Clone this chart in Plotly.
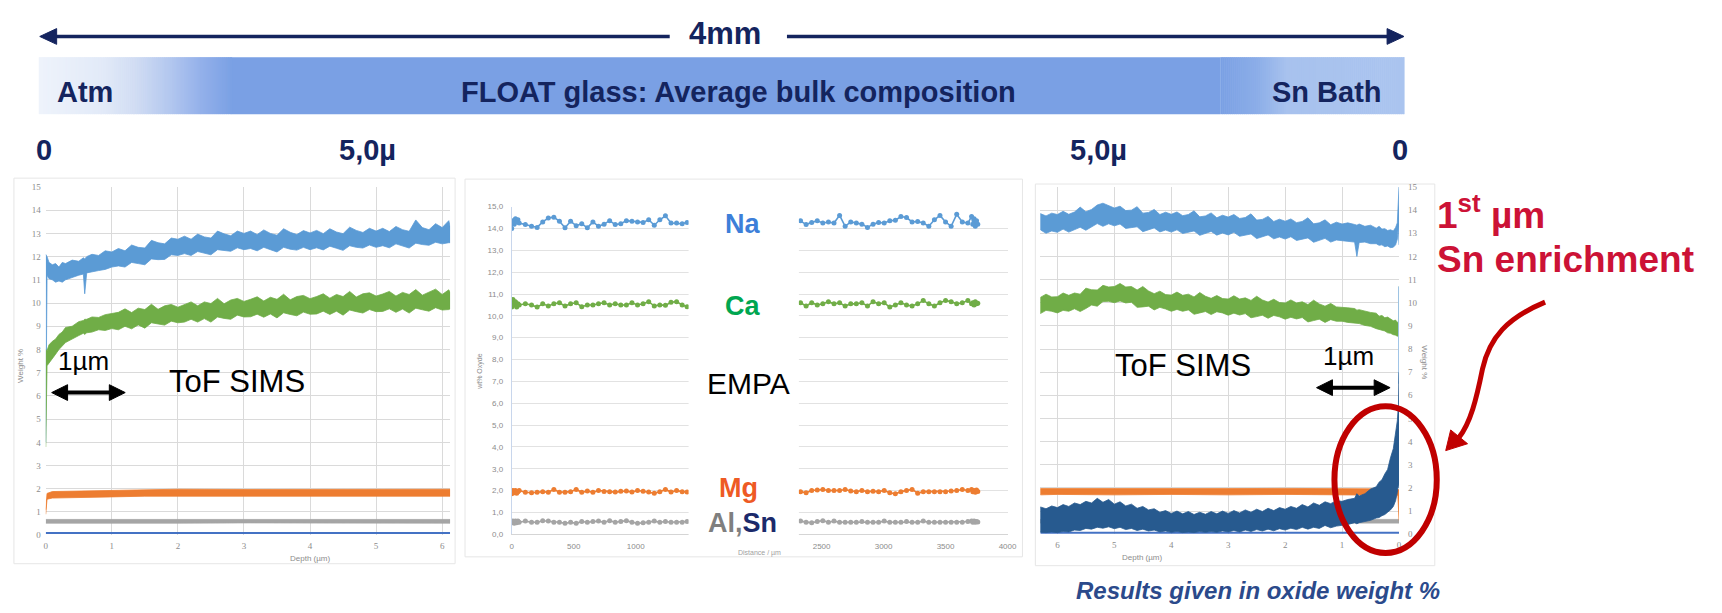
import plotly.graph_objects as go

W, H = 1722, 613

# ---------------- ToF-SIMS profile, atmosphere face (depth in µm, oxide wt %) ----------------
# each species is drawn as its noise envelope (low / high edge)
ATM_DEPTH = [0.0, 0.02, 0.05, 0.1, 0.15, 0.2, 0.25, 0.3, 0.4, 0.5, 0.57, 0.59, 0.62, 0.7, 0.8, 0.9, 1.0,
             1.1, 1.2, 1.3, 1.4, 1.5, 1.6, 1.7, 1.8, 1.9, 2.0,
             2.1, 2.2, 2.3, 2.4, 2.5, 2.6, 2.7, 2.8, 2.9, 3.0,
             3.1, 3.2, 3.3, 3.4, 3.5, 3.6, 3.7, 3.8, 3.9, 4.0,
             4.1, 4.2, 4.3, 4.4, 4.5, 4.6, 4.7, 4.8, 4.9, 5.0,
             5.1, 5.2, 5.3, 5.4, 5.5, 5.6, 5.7, 5.8, 5.9, 6.0,
             6.1, 6.12]
ATM_NA_HI = [12.1, 12.0, 11.75, 11.65, 11.7, 11.55, 11.75, 11.7, 11.85, 11.8, 11.95, 11.9, 12.0, 12.1, 12.05, 12.25, 12.2,
             12.35, 12.25, 12.5, 12.4, 12.37, 12.7, 12.6, 12.55, 12.8, 12.75,
             12.88, 12.75, 12.97, 12.85, 12.8, 13.1, 12.98, 12.9, 13.1, 13.0,
             13.1, 12.95, 13.15, 13.0, 12.92, 13.2, 13.05, 12.95, 13.12, 13.02,
             13.13, 12.99, 13.2, 13.06, 12.99, 13.27, 13.13, 13.04, 13.22, 13.1,
             13.22, 13.08, 13.3, 13.16, 13.09, 13.58, 13.25, 13.16, 13.42, 13.25,
             13.55, 13.3]
ATM_NA_LO = [4.0, 11.2, 11.05, 11.0, 10.9, 10.95, 10.9, 11.0, 11.1, 11.2, 11.25, 10.4, 11.3, 11.35, 11.4, 11.45, 11.55,
             11.6, 11.55, 11.75, 11.7, 11.65, 11.9, 11.87, 11.88, 12.08, 12.05,
             12.13, 12.05, 12.22, 12.15, 12.08, 12.3, 12.25, 12.23, 12.38, 12.3,
             12.35, 12.25, 12.4, 12.3, 12.2, 12.4, 12.32, 12.28, 12.4, 12.3,
             12.38, 12.29, 12.45, 12.36, 12.27, 12.47, 12.4, 12.37, 12.5, 12.4,
             12.47, 12.38, 12.55, 12.46, 12.37, 12.58, 12.52, 12.49, 12.62, 12.55,
             12.6, 12.6]
ATM_CA_HI = [8.0, 7.95, 8.2, 8.35, 8.45, 8.65, 8.75, 8.95, 9.0, 9.2, 9.25, 9.3, 9.3, 9.4, 9.38, 9.5, 9.55,
             9.6, 9.75, 9.59, 9.78, 9.72, 9.95, 9.73, 9.88, 9.94, 9.82,
             9.93, 10.05, 9.88, 10.05, 9.98, 10.2, 9.97, 10.13, 10.2, 10.07,
             10.16, 10.27, 10.09, 10.25, 10.16, 10.38, 10.14, 10.28, 10.33, 10.19,
             10.28, 10.4, 10.21, 10.37, 10.28, 10.5, 10.26, 10.4, 10.44, 10.3,
             10.39, 10.5, 10.3, 10.46, 10.37, 10.58, 10.34, 10.48, 10.6, 10.37,
             10.57, 10.45]
ATM_CA_LO = [3.8, 7.3, 7.45, 7.6, 7.8, 8.0, 8.15, 8.3, 8.45, 8.6, 8.7, 8.65, 8.72, 8.75, 8.85, 8.82, 8.9,
             8.85, 9.0, 8.89, 9.06, 8.92, 9.15, 9.1, 9.05, 9.22, 9.15,
             9.18, 9.3, 9.18, 9.33, 9.18, 9.4, 9.34, 9.3, 9.48, 9.4,
             9.41, 9.52, 9.39, 9.53, 9.36, 9.58, 9.51, 9.45, 9.61, 9.52,
             9.53, 9.65, 9.51, 9.65, 9.48, 9.7, 9.63, 9.57, 9.72, 9.63,
             9.64, 9.75, 9.6, 9.74, 9.57, 9.78, 9.71, 9.65, 9.8, 9.7,
             9.72, 9.75]
ATM_MG_DEPTH = [0.0, 0.02, 0.1, 0.5, 1.0, 1.5, 2.0, 3.0, 4.0, 5.0, 6.12]
ATM_MG_LO = [0.9, 1.55, 1.6, 1.62, 1.65, 1.68, 1.68, 1.68, 1.69, 1.68, 1.68]
ATM_MG_HI = [1.1, 1.8, 1.88, 1.9, 1.93, 1.97, 1.98, 1.97, 1.98, 1.97, 1.98]
ATM_AL_DEPTH = [0.0, 1.0, 2.0, 3.0, 4.0, 5.0, 6.12]
ATM_AL_LO = [0.52, 0.53, 0.52, 0.53, 0.52, 0.53, 0.52]
ATM_AL_HI = [0.68, 0.68, 0.69, 0.68, 0.68, 0.69, 0.68]
ATM_SN_DEPTH = [0.0, 6.12]
ATM_SN = [0.1, 0.1]

# ---------------- EMPA line scan across the 4 mm section (distance in µm) ----------------
EMPA_X_L = [0, 10, 20, 30, 40, 50, 60, 110, 160, 205, 250, 295, 340, 385, 430, 475, 520, 565,
            610, 655, 700, 745, 790, 835, 880, 925, 970, 1015, 1060, 1105, 1150, 1195, 1240,
            1285, 1330, 1375, 1415]
EMPA_NA_L = [14.0, 14.35, 14.2, 14.45, 14.3, 14.4, 14.25,
             14.18, 14.1, 14.05, 14.3, 14.48, 14.52, 14.33, 14.03, 14.33, 14.13, 14.22, 14.03, 14.3,
             14.1, 14.2, 14.36, 14.18, 14.22, 14.36, 14.33, 14.3, 14.28, 14.4, 14.15, 14.4, 14.58,
             14.25, 14.25, 14.22, 14.28]
EMPA_CA_L = [10.4, 10.75, 10.5, 10.65, 10.4, 10.55, 10.5,
             10.55, 10.5, 10.4, 10.55, 10.45, 10.55, 10.6, 10.45, 10.55, 10.6, 10.42, 10.5, 10.5,
             10.55, 10.6, 10.5, 10.55, 10.5, 10.5, 10.6, 10.5, 10.55, 10.65, 10.45, 10.5, 10.48,
             10.62, 10.65, 10.5, 10.42]
EMPA_MG_L = [1.85, 2.0, 1.9, 2.0, 1.88, 1.95, 2.0,
             1.92, 1.9, 1.92, 1.95, 1.92, 2.05, 1.92, 1.92, 1.95, 2.05, 1.92, 1.98, 1.92,
             2.0, 1.96, 1.95, 1.93, 1.97, 1.98, 1.93, 2.0, 1.97, 1.93, 1.88, 1.95, 2.05,
             1.93, 2.0, 1.95, 1.93]
EMPA_AL_L = [0.55, 0.6, 0.5, 0.6, 0.52, 0.6, 0.55,
             0.6, 0.55, 0.55, 0.62, 0.6, 0.55, 0.55, 0.5, 0.55, 0.5, 0.58, 0.55, 0.58,
             0.6, 0.55, 0.62, 0.55, 0.58, 0.62, 0.55, 0.5, 0.52, 0.55, 0.6, 0.55, 0.58,
             0.55, 0.55, 0.55, 0.58]
EMPA_X_R = [2330, 2375, 2420, 2465, 2510, 2555, 2600, 2645, 2690, 2735, 2780, 2825, 2870,
            2915, 2960, 3005, 3050, 3095, 3140, 3185, 3230, 3275, 3320, 3365, 3410, 3455,
            3500, 3545, 3590, 3635, 3680, 3710, 3720, 3730, 3740, 3750, 3760]
EMPA_NA_R = [14.35, 14.18, 14.28, 14.35, 14.25, 14.3, 14.25, 14.6, 14.1, 14.3, 14.25, 14.2,
             14.05, 14.2, 14.28, 14.25, 14.35, 14.38, 14.55, 14.5, 14.3, 14.32, 14.25, 14.1,
             14.4, 14.6, 14.3, 14.1, 14.65, 14.3, 14.25, 14.55, 14.2, 14.45, 14.1, 14.35, 14.2]
EMPA_CA_R = [10.6, 10.45, 10.6, 10.5, 10.55, 10.65, 10.55, 10.6, 10.45, 10.55, 10.55, 10.6,
             10.45, 10.65, 10.55, 10.6, 10.4, 10.5, 10.6, 10.5, 10.45, 10.55, 10.7, 10.55,
             10.45, 10.6, 10.7, 10.65, 10.55, 10.6, 10.7, 10.55, 10.6, 10.5, 10.65, 10.55, 10.58]
EMPA_MG_R = [1.95, 1.9, 2.0, 2.02, 2.05, 2.0, 2.0, 2.0, 2.05, 1.98, 1.95, 2.0,
             1.95, 1.97, 1.95, 2.0, 1.9, 1.85, 1.95, 2.0, 2.05, 1.88, 1.95, 1.95,
             1.95, 1.95, 1.95, 1.98, 2.0, 2.05, 2.0, 2.05, 1.95, 2.0, 1.92, 2.02, 1.96]
EMPA_AL_R = [0.6, 0.55, 0.52, 0.58, 0.62, 0.55, 0.6, 0.55, 0.55, 0.55, 0.55, 0.58,
             0.55, 0.55, 0.55, 0.6, 0.55, 0.55, 0.55, 0.58, 0.55, 0.55, 0.6, 0.55,
             0.55, 0.55, 0.55, 0.55, 0.55, 0.55, 0.58, 0.6, 0.55, 0.6, 0.55, 0.58, 0.56]

# ---------------- ToF-SIMS profile, tin-bath face ----------------
SNB_DEPTH = [0.0, 0.01, 0.03, 0.06, 0.1, 0.15, 0.2, 0.25, 0.3, 0.35, 0.4, 0.5, 0.6, 0.7, 0.74, 0.78, 0.9, 1.0,
             1.1, 1.2, 1.3, 1.4, 1.5, 1.6, 1.7, 1.8, 1.9, 2.0,
             2.1, 2.2, 2.3, 2.4, 2.5, 2.6, 2.7, 2.8, 2.9, 3.0,
             3.1, 3.2, 3.3, 3.4, 3.5, 3.6, 3.7, 3.8, 3.9, 4.0,
             4.1, 4.2, 4.3, 4.4, 4.5, 4.6, 4.7, 4.8, 4.9, 5.0,
             5.1, 5.2, 5.3, 5.4, 5.5, 5.6, 5.7, 5.8, 5.9, 6.0,
             6.1, 6.2, 6.3]
SNB_NA_HI = [15.0, 14.4, 13.45, 13.25, 13.1, 13.15, 13.12, 13.2, 13.18, 13.3, 13.22, 13.35, 13.3, 13.4, 13.35, 13.38, 13.45, 13.4,
             13.48, 13.37, 13.58, 13.45, 13.41, 13.67, 13.51, 13.46, 13.62, 13.52,
             13.61, 13.51, 13.73, 13.6, 13.57, 13.84, 13.68, 13.64, 13.81, 13.7,
             13.78, 13.67, 13.88, 13.75, 13.71, 13.97, 13.81, 13.76, 13.92, 13.82,
             13.91, 13.81, 14.03, 13.9, 13.87, 14.15, 14.0, 13.98, 14.17, 14.09,
             14.18, 14.3, 14.22, 14.03, 13.93, 14.13, 13.92, 13.82, 13.95, 13.81,
             13.87, 13.75, 13.85]
SNB_NA_LO = [12.5, 13.4, 12.75, 12.5, 12.4, 12.38, 12.45, 12.42, 12.5, 12.48, 12.55, 12.55, 12.62, 12.6, 12.0, 12.62, 12.65, 12.68,
             12.71, 12.62, 12.78, 12.7, 12.61, 12.8, 12.75, 12.69, 12.85, 12.75,
             12.84, 12.76, 12.93, 12.85, 12.77, 12.97, 12.92, 12.87, 13.04, 12.93,
             13.01, 12.92, 13.08, 13.0, 12.91, 13.1, 13.05, 12.99, 13.15, 13.05,
             13.14, 13.06, 13.23, 13.15, 13.07, 13.28, 13.24, 13.21, 13.4, 13.32,
             13.41, 13.3, 13.42, 13.28, 13.13, 13.26, 13.16, 13.05, 13.18, 13.04,
             13.1, 13.0, 13.15]
SNB_CA_HI = [10.7, 9.2, 9.15, 9.25, 9.22, 9.3, 9.38, 9.35, 9.45, 9.42, 9.55, 9.58, 9.65, 9.7, 9.68, 9.75, 9.78, 9.8,
             9.82, 9.97, 9.85, 9.95, 10.11, 9.92, 10.04, 9.99, 10.12, 9.99,
             10.01, 10.15, 10.03, 10.12, 10.28, 10.1, 10.21, 10.16, 10.3, 10.16,
             10.18, 10.31, 10.19, 10.28, 10.44, 10.25, 10.37, 10.32, 10.46, 10.33,
             10.35, 10.5, 10.39, 10.51, 10.7, 10.55, 10.7, 10.68, 10.83, 10.7,
             10.68, 10.75, 10.55, 10.56, 10.63, 10.37, 10.42, 10.32, 10.42, 10.26,
             10.25, 10.37, 10.23]
SNB_CA_LO = [8.6, 8.6, 8.55, 8.6, 8.62, 8.68, 8.7, 8.78, 8.8, 8.85, 8.88, 8.98, 9.02, 9.1, 9.08, 9.12, 9.15, 9.2,
             9.2, 9.27, 9.15, 9.29, 9.23, 9.17, 9.36, 9.3, 9.37, 9.29,
             9.39, 9.45, 9.33, 9.46, 9.4, 9.35, 9.53, 9.47, 9.55, 9.46,
             9.56, 9.61, 9.49, 9.62, 9.56, 9.5, 9.69, 9.63, 9.71, 9.63,
             9.73, 9.8, 9.69, 9.85, 9.82, 9.8, 10.02, 9.99, 10.08, 10.0,
             10.06, 10.05, 9.85, 9.9, 9.75, 9.62, 9.74, 9.63, 9.67, 9.56,
             9.63, 9.67, 9.53]
SNB_SN_HI = [7.0, 5.6, 4.9, 4.4, 3.7, 3.3, 2.8, 2.6, 2.35, 2.25, 2.05, 1.95, 1.75, 1.65, 1.75, 1.55, 1.5, 1.42,
             1.45, 1.32, 1.4, 1.25, 1.35, 1.18, 1.28, 1.12, 1.2, 1.08,
             1.15, 1.02, 1.12, 0.98, 1.08, 0.95, 1.05, 0.92, 1.02, 0.9,
             1.0, 0.88, 0.98, 0.86, 0.95, 0.85, 0.98, 0.88, 1.0, 0.9,
             1.02, 0.95, 1.1, 1.05, 1.2, 1.12, 1.3, 1.22, 1.4, 1.3,
             1.5, 1.38, 1.55, 1.35, 1.42, 1.28, 1.35, 1.2, 1.28, 1.15,
             1.22, 1.1, 1.18]
SNB_SN_LO = [2.0, 2.2, 1.8, 1.45, 1.2, 1.05, 0.95, 0.85, 0.8, 0.72, 0.7, 0.6, 0.55, 0.5, 0.45, 0.5, 0.42, 0.38,
             0.35, 0.28, 0.38, 0.25, 0.3, 0.22, 0.3, 0.2, 0.26, 0.18,
             0.24, 0.15, 0.22, 0.14, 0.2, 0.12, 0.18, 0.1, 0.16, 0.1,
             0.14, 0.08, 0.12, 0.08, 0.12, 0.07, 0.1, 0.07, 0.12, 0.08,
             0.14, 0.1, 0.18, 0.14, 0.22, 0.16, 0.25, 0.2, 0.3, 0.24,
             0.32, 0.26, 0.3, 0.22, 0.25, 0.16, 0.18, 0.1, 0.12, 0.07,
             0.1, 0.07, 0.09]
SNB_EDGE_DEPTH = [0.004, 0.004]
SNB_EDGE = [6.5, 10.7]
SNB_MG_DEPTH = [0.0, 0.02, 0.5, 1.0, 2.0, 3.0, 4.0, 5.0, 6.0, 6.3]
SNB_MG_LO = [0.6, 1.68, 1.7, 1.7, 1.72, 1.7, 1.72, 1.7, 1.72, 1.7]
SNB_MG_HI = [1.9, 1.95, 1.96, 1.97, 1.98, 1.97, 1.98, 1.98, 1.97, 1.97]
SNB_AL_DEPTH = [0.0, 1.0, 2.0, 3.0, 4.0, 5.0, 6.3]
SNB_AL_LO = [0.48, 0.49, 0.48, 0.49, 0.48, 0.49, 0.48]
SNB_AL_HI = [0.64, 0.64, 0.65, 0.64, 0.64, 0.65, 0.64]
SNB_BASE_DEPTH = [0.0, 6.3]
SNB_BASE = [0.06, 0.06]

# ---------------- ticks ----------------
DEPTH_TICKS = [0, 1, 2, 3, 4, 5, 6]
WT_TICKS = [0, 1, 2, 3, 4, 5, 6, 7, 8, 9, 10, 11, 12, 13, 14, 15]
EMPA_Y_TEXT = ["0,0", "1,0", "2,0", "3,0", "4,0", "5,0", "6,0", "7,0", "8,0", "9,0",
               "10,0", "11,0", "12,0", "13,0", "14,0", "15,0"]
EMPA_X_TICKS = [0, 500, 1000, 2500, 3000, 3500, 4000]

# ---------------- styling ----------------
NAVY = "#14245E"
RED = "#C00000"
RED_TEXT = "#CC1236"
SANS = "Liberation Sans, Arial, sans-serif"
SERIF = "Liberation Serif, Times New Roman, serif"
C_NA, C_CA, C_MG, C_AL = "#5B9BD5", "#70AD47", "#ED7D31", "#A5A5A5"
C_SN, C_SN_DARK = "#4472C4", "#275A8F"
GRID = "#DADADA"


def px(x):
    return x / W


def py(y):
    return 1 - y / H


def band(depth, lo, hi, color, ax):
    xs = list(depth) + list(depth)[::-1]
    ys = list(hi) + list(lo)[::-1]
    return go.Scatter(x=xs, y=ys, mode="lines", fill="toself", fillcolor=color,
                      line=dict(color=color, width=0.8), xaxis="x" + ax, yaxis="y" + ax,
                      hoverinfo="skip", showlegend=False)


def line(xs, ys, color, ax, width=2):
    return go.Scatter(x=xs, y=ys, mode="lines", line=dict(color=color, width=width),
                      xaxis="x" + ax, yaxis="y" + ax, hoverinfo="skip", showlegend=False)


def scan(xs, ys, color):
    return go.Scatter(x=xs, y=ys, mode="lines+markers", line=dict(color=color, width=1.6),
                      marker=dict(size=5, color=color), xaxis="x2", yaxis="y2",
                      hoverinfo="skip", showlegend=False)


fig = go.Figure()

# atmosphere-side profile
fig.add_trace(band(ATM_DEPTH, ATM_NA_LO, ATM_NA_HI, C_NA, ""))
fig.add_trace(band(ATM_DEPTH, ATM_CA_LO, ATM_CA_HI, C_CA, ""))
fig.add_trace(band(ATM_AL_DEPTH, ATM_AL_LO, ATM_AL_HI, C_AL, ""))
fig.add_trace(band(ATM_MG_DEPTH, ATM_MG_LO, ATM_MG_HI, C_MG, ""))
fig.add_trace(line(ATM_SN_DEPTH, ATM_SN, C_SN, ""))

# EMPA bulk scan
for xs, series in ((EMPA_X_L, (EMPA_NA_L, EMPA_CA_L, EMPA_MG_L, EMPA_AL_L)),
                   (EMPA_X_R, (EMPA_NA_R, EMPA_CA_R, EMPA_MG_R, EMPA_AL_R))):
    for ys, col in zip(series, (C_NA, C_CA, C_MG, C_AL)):
        fig.add_trace(scan(xs, ys, col))

# tin-bath-side profile
fig.add_trace(band(SNB_DEPTH, SNB_NA_LO, SNB_NA_HI, C_NA, "3"))
fig.add_trace(band(SNB_DEPTH, SNB_CA_LO, SNB_CA_HI, C_CA, "3"))
fig.add_trace(band(SNB_AL_DEPTH, SNB_AL_LO, SNB_AL_HI, C_AL, "3"))
fig.add_trace(line(SNB_BASE_DEPTH, SNB_BASE, C_SN, "3"))
fig.add_trace(band(SNB_MG_DEPTH, SNB_MG_LO, SNB_MG_HI, C_MG, "3"))
fig.add_trace(line(SNB_EDGE_DEPTH, SNB_EDGE, "#9DC3E6", "3", width=1.5))
fig.add_trace(band(SNB_DEPTH, SNB_SN_LO, SNB_SN_HI, C_SN_DARK, "3"))

tick_serif = dict(family=SERIF, size=9, color="#8C8C8C")
tick_sans = dict(family=SANS, size=8, color="#8C8C8C")

layout_axes = dict(
    xaxis=dict(domain=[px(44), px(451)], range=[0, 6.12], tickvals=DEPTH_TICKS,
               showgrid=True, gridcolor=GRID, zeroline=False, showline=False, ticks="",
               tickfont=tick_serif, ticklabelstandoff=4, anchor="y", fixedrange=True),
    yaxis=dict(domain=[py(539), py(185)], range=[0, 15], tickvals=WT_TICKS,
               showgrid=True, gridcolor=GRID, zeroline=False, ticks="", tickfont=tick_serif,
               ticklabelstandoff=4, anchor="x", fixedrange=True),
    xaxis2=dict(domain=[px(513), px(1012)], range=[0, 4000], tickvals=EMPA_X_TICKS,
                showgrid=False, zeroline=False, showline=True, linecolor="#D5D5D5",
                ticks="", tickfont=tick_sans, ticklabelstandoff=4, anchor="y2", fixedrange=True),
    yaxis2=dict(domain=[py(538), py(205)], range=[0, 15], tickvals=WT_TICKS, ticktext=EMPA_Y_TEXT,
                showgrid=True, gridcolor="#E2E2E2", zeroline=False, showline=True,
                linecolor="#C8D6EC", ticks="", tickfont=tick_sans, ticklabelstandoff=6,
                anchor="x2", fixedrange=True),
    xaxis3=dict(domain=[px(1045), px(1406)], range=[6.3, 0], tickvals=DEPTH_TICKS,
                showgrid=True, gridcolor=GRID, zeroline=False, ticks="", tickfont=tick_serif,
                ticklabelstandoff=4, anchor="y3", fixedrange=True),
    yaxis3=dict(domain=[py(538), py(185)], range=[0, 15], tickvals=WT_TICKS, side="right",
                showgrid=True, gridcolor=GRID, zeroline=False, ticks="", tickfont=tick_serif,
                ticklabelstandoff=8, anchor="x3", fixedrange=True),
)

# ---------------- decorations ----------------
shapes = []


def rect(x0, y0, x1, y1, fill=None, edge=None, width=1, layer="below"):
    shapes.append(dict(type="rect", xref="paper", yref="paper",
                       x0=px(x0), x1=px(x1), y0=py(y1), y1=py(y0),
                       fillcolor=fill or "rgba(0,0,0,0)",
                       line=dict(color=edge or "rgba(0,0,0,0)", width=width if edge else 0),
                       layer=layer))


def poly(points, color, layer="above"):
    d = "M " + " L ".join(f"{px(x):.5f},{py(y):.5f}" for x, y in points) + " Z"
    shapes.append(dict(type="path", xref="paper", yref="paper", path=d,
                       fillcolor=color, line=dict(color=color, width=1), layer=layer))


def seg(x0, y0, x1, y1, color, width, layer="above"):
    shapes.append(dict(type="line", xref="paper", yref="paper",
                       x0=px(x0), y0=py(y0), x1=px(x1), y1=py(y1),
                       line=dict(color=color, width=width), layer=layer))


def mix(c0, c1, t):
    return "rgb(%d,%d,%d)" % tuple(round(a + (b - a) * t) for a, b in zip(c0, c1))


def gradient(stops, step=2):
    for (xa, ca), (xb, cb) in zip(stops[:-1], stops[1:]):
        x = xa
        while x < xb:
            x2 = min(x + step, xb)
            rect(x, 53, x2 + 0.6, 111, fill=mix(ca, cb, (x - xa) / (xb - xa)))
            x = x2


# chart-area frames
rect(12, 176, 456, 568, edge="#E6E6E6")
rect(466, 177, 1027, 561, edge="#E6E6E6")
rect(1040, 182, 1442, 570, edge="#E6E6E6")

# banner with faded ends
BLUE = (122, 160, 228)
rect(231, 53, 1226, 111, fill="rgb(122,160,228)")
gradient([(37, (238, 243, 251)), (100, (226, 234, 248)), (133, (208, 220, 243)),
          (167, (180, 200, 239)), (200, (147, 176, 234)), (231, BLUE)])
gradient([(1226, BLUE), (1262, (140, 174, 232)), (1292, (168, 194, 238)), (1411, (170, 196, 239))])

# 4 mm span arrow
seg(52, 32, 672, 32, NAVY, 3.5)
seg(790, 32, 1397, 32, NAVY, 3.5)
poly([(38, 32), (55, 24), (55, 40)], NAVY)
poly([(1411, 32), (1394, 24), (1394, 40)], NAVY)

# 1 µm double arrows
for xl, xr, yy in ((50, 124, 394), (1323, 1397, 389)):
    seg(xl + 12, yy, xr - 12, yy, "black", 4)
    poly([(xl, yy), (xl + 16, yy - 8), (xl + 16, yy + 8)], "black")
    poly([(xr, yy), (xr - 16, yy - 8), (xr - 16, yy + 8)], "black")

# blank strip splitting the EMPA scan
rect(691, 195, 802, 553, fill="white", layer="above")

# Sn-enrichment highlight
shapes.append(dict(type="circle", xref="paper", yref="paper",
                   x0=px(1341), x1=px(1444), y0=py(557), y1=py(408),
                   line=dict(color=RED, width=6), layer="above"))


def P(x, y):
    return f"{px(x):.5f},{py(y):.5f}"


shapes.append(dict(type="path", xref="paper", yref="paper", layer="above",
                   path=f"M {P(1553, 302)} C {P(1515, 318)} {P(1497, 338)} {P(1490, 370)} "
                        f"C {P(1484, 400)} {P(1478, 425)} {P(1466, 440)}",
                   line=dict(color=RED, width=5), fillcolor="rgba(0,0,0,0)"))
poly([(1453, 453), (1458, 432), (1475, 446)], RED)

# ---------------- text ----------------
annotations = []


def label(x, y, s, size, color="black", family=SANS, xanchor="center", angle=0):
    annotations.append(dict(x=px(x), y=py(y), xref="paper", yref="paper", text=s,
                            showarrow=False, xanchor=xanchor, yanchor="middle",
                            textangle=angle, font=dict(family=family, size=size, color=color)))


label(728, 29, "<b>4mm</b>", 31, NAVY)
label(84, 88, "<b>Atm</b>", 29, NAVY)
label(741, 88, "<b>FLOAT glass: Average bulk composition</b>", 29, NAVY)
label(1391, 88, "<b>Sn Bath</b>", 29, NAVY, xanchor="right")
label(42, 147, "<b>0</b>", 29, NAVY)
label(368, 147, "<b>5,0µ</b>", 29, NAVY)
label(1104, 147, "<b>5,0µ</b>", 29, NAVY)
label(1407, 147, "<b>0</b>", 29, NAVY)

label(82, 362, "1µm", 26)
label(237, 383, "ToF SIMS", 31)
label(1355, 357, "1µm", 26)
label(1189, 366, "ToF SIMS", 31)
label(751, 385, "EMPA", 30)

label(745, 223, "<b>Na</b>", 27, "#3D7FD9")
label(745, 306, "<b>Ca</b>", 27, "#00A650")
label(741, 491, "<b>Mg</b>", 27, "#EE5A24")
label(745, 527, "<b><span style='color:#7F7F7F'>Al,</span><span style='color:#1B2A6B'>Sn</span></b>", 27)

label(18, 367, "Weight %", 8, "#8C8C8C", angle=-90)
label(310, 563, "Depth (µm)", 8, "#8C8C8C")
label(481, 372, "wt% Oxyde", 7, "#8C8C8C", angle=-90)
label(762, 557, "Distance / µm", 7, "#A0A0A0")
label(1148, 562, "Depth (µm)", 8, "#8C8C8C")
label(1432, 363, "Weight %", 8, "#8C8C8C", angle=90)

label(1442, 211, "<b>1<sup>st</sup> µm</b>", 37, RED_TEXT, xanchor="left")
label(1442, 259, "<b>Sn enrichment</b>", 37, RED_TEXT, xanchor="left")
label(1264, 595, "<b><i>Results given in oxide weight %</i></b>", 24, "#2B4A8B")

fig.update_layout(
    width=W, height=H,
    margin=dict(l=0, r=0, t=0, b=0),
    paper_bgcolor="white", plot_bgcolor="rgba(0,0,0,0)",
    showlegend=False,
    shapes=shapes, annotations=annotations,
    **layout_axes,
)

fig.write_html("out.html", config={"displayModeBar": False})
